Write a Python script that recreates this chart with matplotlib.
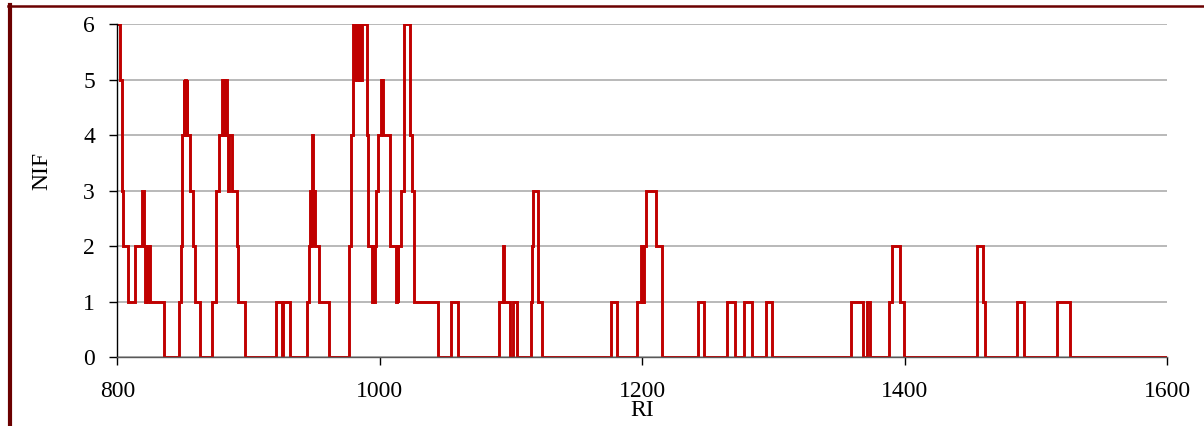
import matplotlib
matplotlib.use("Agg")
import matplotlib.pyplot as plt
from matplotlib.lines import Line2D


### Data ###
# RI where each step starts, and the NIF count held until the next RI
ri_start = [
    800.0, 802.0, 803.3, 803.8, 804.6, 807.8, 813.5, 819.2, 820.4, 821.4,
    822.0, 822.6, 823.2, 823.8, 824.3, 824.9, 835.7, 847.0, 848.5, 849.0,
    849.5, 850.5, 851.2, 851.8, 852.5, 853.0, 853.4, 855.4, 857.5, 859.3,
    862.8, 872.2, 874.9, 875.2, 877.7, 879.5, 880.5, 881.2, 882.0, 882.8,
    883.8, 884.5, 885.2, 887.5, 891.0, 892.2, 897.3, 920.7, 925.2, 926.5,
    931.6, 944.8, 946.3, 947.0, 947.6, 948.1, 949.0, 949.6, 950.2, 950.8,
    953.5, 961.5, 976.5, 977.8, 979.3, 980.2, 980.9, 981.6, 982.3, 983.0,
    983.8, 984.5, 985.3, 986.1, 986.8, 990.0, 990.8, 993.8, 994.7, 995.5,
    996.5, 997.3, 998.9, 1000.9, 1001.5, 1002.0, 1002.5, 1007.8, 1012.3, 1013.0,
    1013.6, 1014.3, 1014.9, 1016.0, 1018.7, 1023.0, 1024.3, 1026.3, 1044.6, 1054.2,
    1060.0, 1090.8, 1093.6, 1094.9, 1099.2, 1101.7, 1105.0, 1115.2, 1116.2, 1117.0,
    1120.8, 1123.3, 1175.9, 1181.1, 1195.7, 1199.5, 1200.0, 1200.5, 1201.0, 1201.5,
    1203.3, 1210.4, 1214.8, 1242.2, 1247.3, 1264.3, 1270.6, 1277.5, 1283.8, 1294.2,
    1298.6, 1358.8, 1368.4, 1371.0, 1373.5, 1387.8, 1390.2, 1396.3, 1399.4, 1454.8,
    1455.3, 1459.8, 1461.1, 1485.7, 1490.8, 1516.2, 1525.9,
]
nif = [
    6, 5, 4, 3, 2, 1, 2, 3, 2, 1,
    2, 1, 2, 1, 2, 1, 0, 1, 2, 3,
    4, 5, 4, 5, 4, 5, 4, 3, 2, 1,
    0, 1, 2, 3, 4, 5, 4, 5, 4, 5,
    4, 3, 4, 3, 2, 1, 0, 1, 0, 1,
    0, 1, 2, 3, 2, 4, 3, 2, 3, 2,
    1, 0, 2, 4, 6, 5, 6, 5, 6, 5,
    6, 5, 6, 5, 6, 4, 2, 1, 2, 1,
    2, 3, 4, 5, 4, 5, 4, 2, 1, 2,
    1, 2, 2, 3, 6, 4, 3, 1, 0, 1,
    0, 1, 2, 1, 0, 1, 0, 1, 2, 3,
    1, 0, 1, 0, 1, 2, 1, 2, 1, 2,
    3, 2, 0, 1, 0, 1, 0, 1, 0, 1,
    0, 1, 0, 1, 0, 1, 2, 1, 0, 1,
    2, 1, 0, 1, 0, 1, 0,
]
ri_end = 1600

x_ticks = [800, 1000, 1200, 1400, 1600]
y_ticks = [0, 1, 2, 3, 4, 5, 6]


### Plot ###
plt.rcParams["font.family"] = ["Liberation Serif", "DejaVu Serif"]
plt.rcParams["font.size"] = 17

fig = plt.figure(figsize=(12.04, 4.26), dpi=100)
ax = fig.add_axes([0.0974, 0.162, 0.8719, 0.7806])

xs = ri_start + [ri_end]
ys = nif + [nif[-1]]
ax.step(xs, ys, where="post", color="#C00000", lw=2.1, solid_joinstyle="miter")

ax.set_xlim(800, 1600)
ax.set_ylim(0, 6)
ax.set_xticks(x_ticks)
ax.set_yticks(y_ticks)

ax.yaxis.grid(True, color="#a6a6a6", lw=1.1)
ax.set_axisbelow(True)

for side in ["top", "right"]:
    ax.spines[side].set_visible(False)
ax.spines["left"].set_color("black")
ax.spines["left"].set_linewidth(1.0)
ax.spines["bottom"].set_color("#595959")
ax.spines["bottom"].set_linewidth(1.0)

ax.tick_params(axis="y", direction="out", length=6, width=1, pad=10)
ax.tick_params(axis="x", direction="out", length=6, width=1, pad=11)

ax.set_xlabel("RI")
ax.xaxis.set_label_coords(0.5, -0.128)
ax.set_ylabel("NIF")
ax.yaxis.set_label_coords(-0.062, 0.56)

# dark red frame along the left and top edges
frame = "#6b0000"
fig.add_artist(Line2D([9.5 / 1204, 9.5 / 1204], [0, 1 - 5 / 426],
                      transform=fig.transFigure, color=frame, lw=3.0))
fig.add_artist(Line2D([8 / 1204, 1], [1 - 5.5 / 426, 1 - 5.5 / 426],
                      transform=fig.transFigure, color=frame, lw=1.8))

plt.savefig("out.png", dpi=100)
